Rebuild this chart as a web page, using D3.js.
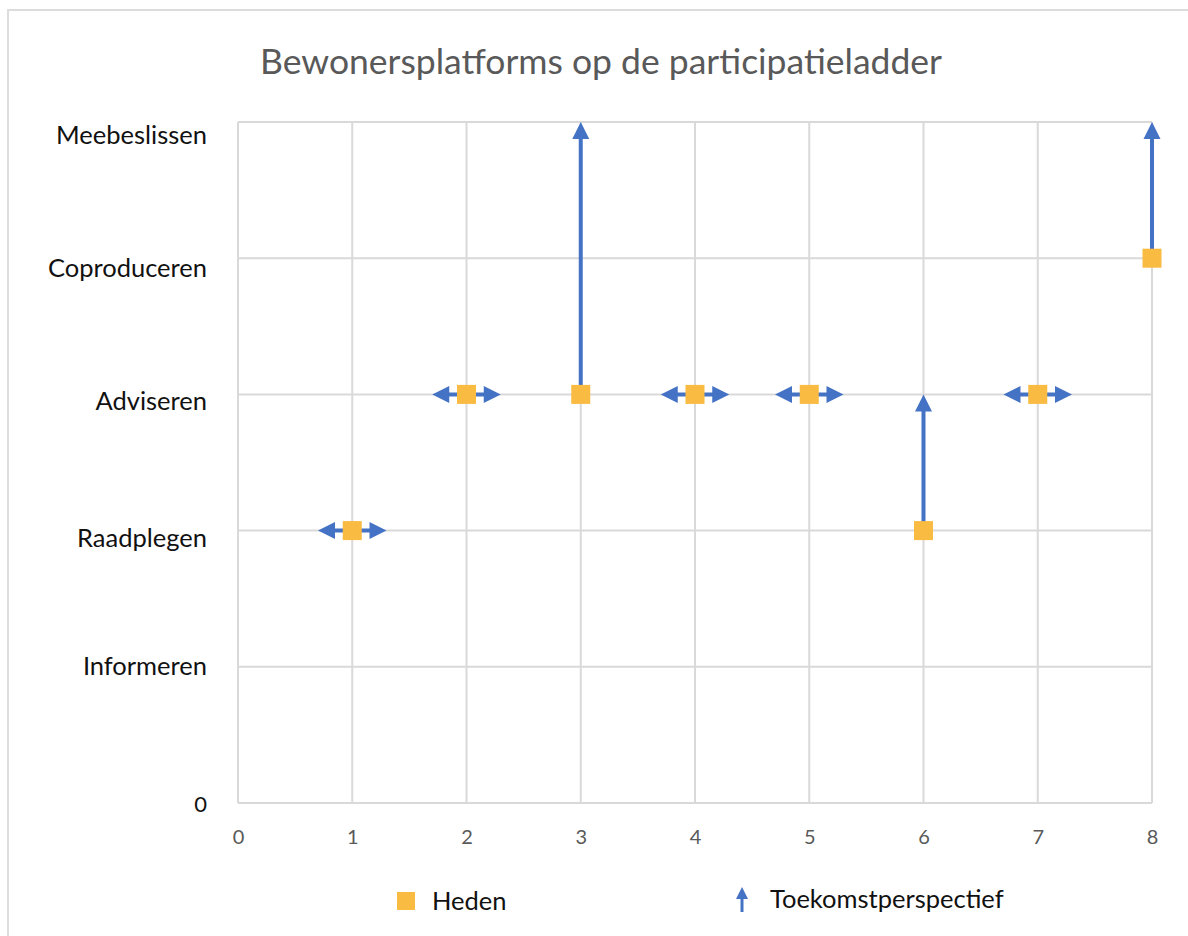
<!DOCTYPE html>
<html>
<head>
<meta charset="utf-8">
<script src="https://cdn.jsdelivr.net/npm/d3@7"></script>
<style>
  body { margin: 0; background: #fff; }
  text { font-family: Lato, "Open Sans", sans-serif; }
</style>
</head>
<body>
<script>
// ---------------------------------------------------------------
// data
var levels = ["0", "Informeren", "Raadplegen", "Adviseren", "Coproduceren", "Meebeslissen"];
var platforms = [1, 2, 3, 4, 5, 6, 7, 8];
var heden = [2, 3, 3, 3, 3, 2, 3, 4];           // current level
var toekomst = [2, 3, 5, 3, 3, 3, 3, 5];        // future level (same = horizontal arrows)
var xTicks = [0, 1, 2, 3, 4, 5, 6, 7, 8];
var title = "Bewonersplatforms op de participatieladder";
var legendLabels = ["Heden", "Toekomstperspectief"];

// ---------------------------------------------------------------
var W = 1188, H = 936;
var margin = { top: 122, right: 36, bottom: 133, left: 238 };

var orange = "#F9BB42";
var blue = "#4472C4";
var grid = "#d9d9d9";

var svg = d3.select("body").append("svg")
    .attr("width", W)
    .attr("height", H);

// chart frame
svg.append("rect")
    .attr("x", 8).attr("y", 10)
    .attr("width", 1200).attr("height", 1000)
    .attr("fill", "none")
    .attr("stroke", "#dcdcdc")
    .attr("stroke-width", 2);

var x = d3.scaleLinear().domain([0, 8]).range([margin.left, W - margin.right]);
var y = d3.scaleLinear().domain([0, 5]).range([H - margin.bottom, margin.top]);

// title
svg.append("text")
    .attr("x", 601).attr("y", 74)
    .attr("text-anchor", "middle")
    .attr("fill", "#595959")
    .style("font-size", "35.5px")
    .text(title);

// gridlines
svg.append("g").selectAll("line.v")
    .data(xTicks)
    .enter().append("line")
    .attr("x1", function (d) { return x(d); })
    .attr("x2", function (d) { return x(d); })
    .attr("y1", y(0)).attr("y2", y(5))
    .attr("stroke", grid).attr("stroke-width", 2);

svg.append("g").selectAll("line.h")
    .data(d3.range(levels.length))
    .enter().append("line")
    .attr("x1", x(0)).attr("x2", x(8))
    .attr("y1", function (d) { return y(d); })
    .attr("y2", function (d) { return y(d); })
    .attr("stroke", grid).attr("stroke-width", 2);

// x axis
var xAxis = svg.append("g")
    .attr("transform", "translate(0," + (y(0) + 20) + ")")
    .call(d3.axisBottom(x).tickValues(xTicks).tickSize(0).tickFormat(d3.format("d")));
xAxis.select(".domain").remove();
xAxis.selectAll("text")
    .attr("dy", "0.9em")
    .attr("fill", "#595959")
    .style("font-size", "20px");

// y axis, labels nudged a bit below their gridline like the original
var labelNudge = [0, 0, 8, 7, 10, 13];
var yAxis = svg.append("g")
    .attr("transform", "translate(" + (x(0) - 28) + ",0)")
    .call(d3.axisLeft(y).tickValues(d3.range(levels.length)).tickSize(0)
        .tickFormat(function (d) { return levels[d]; }));
yAxis.select(".domain").remove();
yAxis.selectAll("text")
    .attr("dy", function (d) { return (labelNudge[d] + 8) + "px"; })
    .attr("fill", "#111")
    .style("font-size", function (d) { return d == 0 ? "22px" : "25.5px"; });

// ---------------------------------------------------------------
// arrows
var head = { len: 17, half: 8.5 };
var shaft = 4;
var arrows = svg.append("g");

function arrowHead(g, tx, ty, dir) {
  // dir: "up", "left", "right"
  var pts;
  if (dir == "up")
    pts = [[tx, ty], [tx - head.half, ty + head.len], [tx + head.half, ty + head.len]];
  else if (dir == "left")
    pts = [[tx, ty], [tx + head.len, ty - head.half], [tx + head.len, ty + head.half]];
  else
    pts = [[tx, ty], [tx - head.len, ty - head.half], [tx - head.len, ty + head.half]];
  g.append("polygon")
    .attr("points", pts.map(function (p) { return p.join(","); }).join(" "))
    .attr("fill", blue);
}

platforms.forEach(function (p, i) {
  var cx = x(p), cy = y(heden[i]);
  if (toekomst[i] > heden[i]) {
    var ty = y(toekomst[i]);
    arrows.append("line")
      .attr("x1", cx).attr("x2", cx)
      .attr("y1", cy).attr("y2", ty + head.len - 2)
      .attr("stroke", blue).attr("stroke-width", shaft);
    arrowHead(arrows, cx, ty, "up");
  } else {
    var lx = x(p - 0.3), rx = x(p + 0.3);
    arrows.append("line")
      .attr("x1", lx + head.len - 2).attr("x2", rx - head.len + 2)
      .attr("y1", cy).attr("y2", cy)
      .attr("stroke", blue).attr("stroke-width", shaft);
    arrowHead(arrows, lx, cy, "left");
    arrowHead(arrows, rx, cy, "right");
  }
});

// current level squares
var sq = 19;
svg.append("g").selectAll("rect")
    .data(platforms)
    .enter().append("rect")
    .attr("x", function (d) { return x(d) - sq / 2; })
    .attr("y", function (d, i) { return y(heden[i]) - sq / 2; })
    .attr("width", sq).attr("height", sq)
    .attr("fill", orange);

// ---------------------------------------------------------------
// legend
var legend = svg.append("g");
legend.append("rect")
    .attr("x", 397).attr("y", 892)
    .attr("width", 18).attr("height", 18)
    .attr("fill", orange);
legend.append("text")
    .attr("x", 432).attr("y", 910)
    .attr("fill", "#111")
    .style("font-size", "25.5px")
    .text(legendLabels[0]);

legend.append("line")
    .attr("x1", 742).attr("x2", 742)
    .attr("y1", 898).attr("y2", 912)
    .attr("stroke", blue).attr("stroke-width", 3);
legend.append("polygon")
    .attr("points", "742,887 736,899 748,899")
    .attr("fill", blue);
legend.append("text")
    .attr("x", 770).attr("y", 908)
    .attr("fill", "#111")
    .style("font-size", "25.5px")
    .text(legendLabels[1]);
</script>
</body>
</html>
